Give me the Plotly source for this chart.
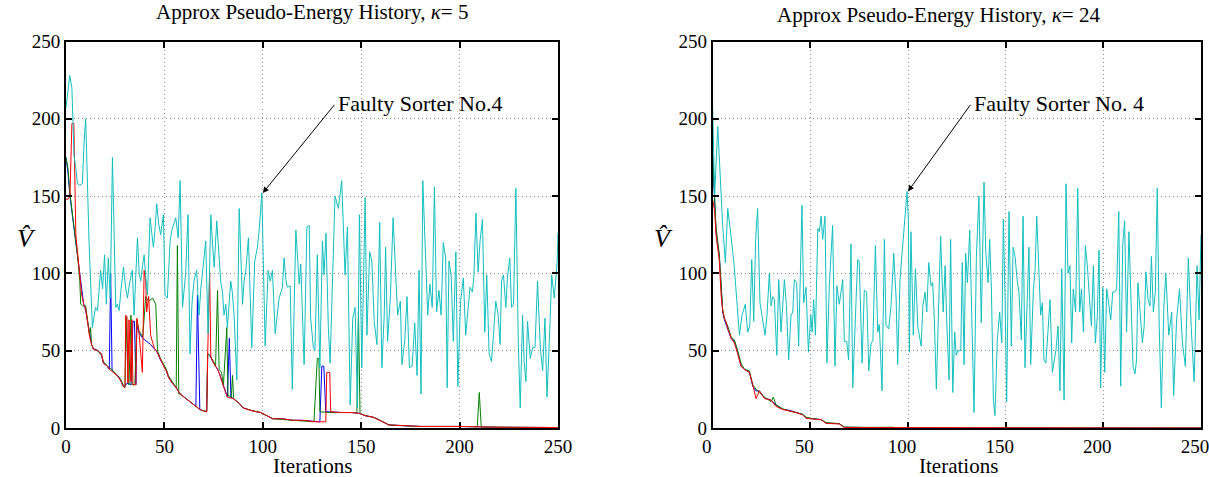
import plotly.graph_objects as go

# ---- data (iteration, pseudo-energy estimate) ----
ticks = [0, 50, 100, 150, 200, 250]

# kappa = 5, faulty sorter No.4 (cyan)
cyan_k5_x = [0, 1.9, 3, 4.1, 5, 5.8, 7, 8.3, 9.2, 10, 11.7, 13.4, 15, 16, 17.6, 18.6, 19.6, 20.5, 21.5, 22.5,
             23.6, 25.3, 26, 27, 28, 29.2, 30.2, 31.2, 32.5, 33.7, 34.6, 35.5, 36.3, 37.2, 38, 38.9, 39.7, 40.5,
             41.4, 42.7, 43.5, 44.4, 45.2, 46.1, 47.1, 48.1, 49.5, 50.3, 51.5, 52.2, 52.9, 53.8, 55, 55.8, 57,
             58, 59.2, 60, 60.8, 62, 63, 64, 65, 66.4, 67.6, 68.5, 69.3, 71, 72.2, 73.6, 74.5, 75.3, 76.6, 77.6,
             78.6, 79.5, 80.3, 81.2, 82, 83.7, 84.5, 85.4, 86.8, 88, 89, 89.7, 90.5, 91.4, 92.7, 94.4, 95.9, 96.6,
             97.3, 98.3, 99.5, 101.2, 102, 102.7, 103.8, 104.9, 106.3, 107.3, 108.3, 110, 110.8, 111.7, 112.5,
             113.9, 115, 116.8, 117.7, 118.5, 119.3, 121, 122.4, 123.6, 124.3, 125.7, 126.5, 127.7, 129, 130.3,
             131.1, 132.1, 133.3, 134.2, 135.5, 136.7, 138.4, 140.1, 141.8, 143, 144.4, 145.7, 146.9, 148.1,
             149.1, 150.3, 152, 152.9, 154.3, 155.4, 156.6, 158, 159.4, 160.5, 161.7, 162.4, 163.4, 164.8, 166.2,
             167.3, 168.5, 169.9, 170.7, 172.1, 173.3, 174.5, 175.9, 177.2, 178.4, 179.4, 180.4, 181.3, 182.7,
             183.8, 184.9, 186.1, 187.2, 188.3, 189.5, 190.6, 191.7, 192.9, 193.7, 194.6, 195.7, 196.8, 198.1,
             199.1, 200.5, 201.9, 203.1, 204.3, 205.3, 206.5, 207.3, 208.3, 209.4, 210.4, 211.6, 212.8, 213.8,
             215, 216.2, 217.2, 218.4, 219.6, 220.6, 221.3, 222.3, 223.5, 224.3, 225.5, 226.4, 227.4, 228.6,
             229.8, 230.8, 232, 232.8, 233.7, 234.5, 235.9, 237.1, 238.3, 239.6, 241, 242.2, 243.4, 244.4,
             245.6, 246.8, 248.1, 249.5, 250]
cyan_k5_y = [207, 228, 220, 176, 168, 158, 157, 158, 185, 200, 121, 65, 78, 76, 102, 90, 112, 80, 110, 84,
             175, 78, 80, 76, 90, 104, 92, 84, 95, 102, 73, 95, 123, 100, 95, 105, 112, 98,
             86, 136, 125, 117, 128, 145, 132, 125, 138, 86, 84, 100, 121, 128, 132, 136, 123,
             160, 78, 88, 100, 138, 48, 80, 95, 102, 73, 90, 100, 121, 61, 138, 118, 104, 134, 110,
             95, 88, 73, 80, 65, 95, 88, 73, 31, 142, 100, 80, 95, 102, 123, 52, 108, 112,
             117, 130, 152, 53, 80, 102, 95, 102, 61, 72, 84, 91, 110, 96, 91,
             92, 25, 128, 105, 93, 106, 41, 130, 131, 71, 52, 50, 112, 39, 121,
             99, 126, 65, 42, 99, 150, 142, 160, 99, 130, 15, 71, 78, 13,
             138, 39, 149, 60, 114, 108, 69, 54, 133, 39, 73, 117, 56, 84, 136,
             103, 73, 82, 41, 56, 85, 39, 40, 68, 34, 102, 22, 160, 103,
             73, 93, 78, 156, 75, 89, 73, 120, 110, 26, 108, 99, 56, 114,
             27, 82, 97, 60, 78, 91, 88, 99, 139, 101, 121, 135, 62, 99,
             48, 43, 60, 82, 73, 54, 95, 99, 78, 97, 110, 78, 80, 155,
             56, 13, 73, 43, 30, 69, 45, 52, 52, 95, 52, 37, 71, 20,
             56, 99, 84, 106, 126]

blue_k5_x = [0, 1, 2, 3, 4, 5, 6, 7, 8, 9, 10, 11, 12, 13, 14, 15, 16, 18, 19, 20, 21, 22, 22.7, 23.4, 24, 26,
             27, 28, 29, 30, 31, 33, 34, 34.8, 35.5, 36, 37, 39, 41, 43, 45, 46, 48, 50, 51, 52, 54, 56, 58,
             60, 62, 64, 66, 66.8, 67.5, 68, 70, 71.5, 72, 73, 75, 77, 78, 80, 82, 83, 83.8, 85, 88, 90, 92,
             95, 99, 102, 105, 110, 115, 120, 127, 129, 130, 131, 132, 134, 140, 145, 149, 152, 156, 158, 161,
             164, 170, 180, 200, 220, 250]
blue_k5_y = [175, 165, 150, 140, 128, 118, 110, 100, 88, 80, 76, 68, 59, 54, 51, 51, 50, 48, 42, 41, 40, 38, 100,
             38, 36, 34, 33, 30, 27, 27, 29, 28, 69, 69, 28, 66, 62, 58, 56, 54, 51, 50, 44, 39, 37, 33, 29,
             26, 22, 20, 18, 16, 14, 86, 48, 12, 11, 10.5, 48, 47, 42, 38, 35, 27, 20, 58, 20, 19, 16, 13, 12,
             11, 10, 8, 6, 6, 5, 5, 4, 4, 40, 40, 10.5, 10.5, 10, 10, 9.5, 8, 7, 6, 4, 2, 1.5, 1, 1, 0.5, 0.3]

green_k5_x = [0, 1, 2, 3, 4, 5, 6, 7, 7.5, 8.5, 10, 11, 12, 12.5, 13, 14, 16, 18, 19, 21, 22, 24, 26, 28, 29,
              30, 30.5, 31.5, 32, 33, 33.5, 35, 36, 37, 39, 40.5, 42, 44, 45.6, 46.5, 48, 50, 51, 52, 54, 56,
              56.6, 57.3, 58, 60, 62, 64, 66, 68, 70, 71.5, 72, 73, 75, 76, 77, 77.8, 79, 80, 81.7, 82.3, 84,
              84.6, 85.2, 88, 90, 92, 95, 99, 102, 105, 110, 115, 120, 126, 127.7, 128.5, 129, 134, 140, 145,
              147.8, 148.6, 149.4, 152, 156, 158, 161, 164, 170, 180, 200, 209, 210, 211, 220, 250]
green_k5_y = [175, 168, 152, 140, 130, 120, 110, 95, 80, 79, 79, 68, 60, 65, 54, 51, 50, 47, 43, 40, 39, 37, 34,
              31, 28, 27, 72, 30, 28, 73, 28, 28, 70, 63, 59, 85, 82, 84, 80, 50, 45, 40, 38, 34, 30, 26, 118,
              22, 22, 20, 18, 16, 14, 12, 11, 11, 48, 47, 43, 40, 89, 38, 36, 28, 65, 21, 20, 34, 19, 16, 13,
              12, 11, 10, 8, 6, 5.5, 5, 4.5, 4, 45, 45, 10.5, 10, 10, 10, 10, 75, 9.5, 8, 7, 6, 4, 2, 1.5, 1,
              1, 0.8, 23, 0.6, 0.5, 0.3]

red_k5_x = [0, 1, 2, 3, 4, 4.5, 5, 6, 7, 8, 9, 10, 11, 12, 13, 14, 16, 18, 19, 21, 22, 24, 26, 28, 29, 30,
            30.3, 31, 31.5, 32, 33, 33.5, 34, 35.5, 36, 37, 38.8, 39.7, 40.5, 41, 42, 43, 45, 46, 48, 50, 51,
            52, 54, 56, 58, 60, 62, 64, 66, 68, 70, 71.5, 72, 73, 73.6, 75, 77, 78, 80, 82, 85, 88, 90, 92,
            95, 99, 102, 105, 110, 115, 120, 127, 132, 132.5, 134, 134.5, 140, 145, 149, 152, 156, 158, 161,
            164, 170, 180, 200, 220, 250]
red_k5_y = [148, 148, 150, 197, 197, 140, 125, 112, 100, 86, 80, 77, 68, 59, 54, 51, 50, 48, 42, 40, 38, 36, 34,
            30, 27, 26, 73, 72, 29, 70, 30, 70, 28, 28, 71, 63, 36, 102, 95, 75, 85, 60, 51, 50, 44, 39, 37,
            33, 29, 26, 22, 20, 18, 16, 14, 12, 11, 10.5, 48, 100, 46, 42, 38, 35, 27, 20, 19, 16, 13, 12,
            11, 10, 8, 6, 6, 5, 5, 4, 4, 36, 36, 10.5, 10, 10, 9.5, 8, 7, 6, 4, 2, 1.5, 1, 1, 0.5, 0.3]

# kappa = 24
cyan_k24_x = [0, 1, 2.6, 3.8, 5.1, 6.5, 7.7, 9.4, 11, 12.3, 13.7, 15, 16.7, 17.9, 19, 20, 21, 22, 23, 24.2, 25.6,
              26.8, 27.8, 29, 29.9, 30.7, 31.6, 32.8, 33.8, 35, 36.7, 37.7, 38.9, 40.1, 41, 41.8, 43, 44, 45.7,
              46.6, 47.8, 49, 50.2, 50.9, 51.7, 52.6, 53.8, 54.6, 55.5, 56.3, 57.5, 58.5, 59.7, 61.4, 62.6, 63.6,
              64.8, 65.7, 66.6, 67.4, 68.6, 69.6, 70.8, 71.7, 73, 74.2, 75, 76.5, 77.6, 78.8, 79.9, 81.1, 82,
              83.3, 84.5, 85.3, 86.7, 87.9, 88.7, 90.1, 91.3, 92.7, 93.9, 94.7, 95.9, 97.3, 98.1, 99.5, 100.2,
              100.7, 101.5, 102.7, 103.8, 105, 106.7, 107.6, 108.7, 109.6, 110.6, 111.8, 112.6, 113.5, 114.5,
              115.9, 116.7, 118, 119, 119.8, 121, 121.8, 122.9, 123.9, 124.7, 125.6, 127, 127.8, 128.7, 129.5,
              130.4, 131.6, 132.6, 133.8, 135, 136.3, 137.5, 138.9, 139.8, 141, 141.8, 142.7, 143.7, 144.5,
              145.7, 146.9, 148, 148.8, 149.7, 150.5, 151.7, 152.9, 153.8, 154.8, 156, 156.8, 158, 158.9, 159.9,
              161.1, 161.9, 162.8, 164.2, 165, 165.9, 166.9, 167.9, 168.8, 169.6, 170.6, 171.7, 172.7, 173.9,
              174.8, 175.8, 176.8, 177.8, 178.7, 179.9, 180.9, 181.9, 182.9, 183.8, 184.6, 185.8, 186.9, 187.9,
              188.8, 189.8, 190.8, 191.8, 192.8, 193.9, 194.9, 195.9, 196.9, 197.8, 198.6, 199.7, 200.7, 201.7,
              202.7, 203.8, 204.8, 205.8, 206.8, 207.9, 208.9, 209.9, 210.9, 211.9, 213.1, 214.3, 215.2, 216.2,
              217, 217.7, 218.8, 220, 220.9, 221.8, 222.9, 223.9, 224.6, 225.6, 226.6, 227.6, 228.6, 229.7, 231,
              232, 233.5, 235, 236, 237.5, 239, 240.5, 242, 243.5, 245, 246.5, 248, 249, 250]
cyan_k24_y = [207, 150, 195, 161, 131, 107, 142, 124, 105, 83, 60, 73, 80, 62, 66, 109, 69, 122, 142, 81, 70,
              60, 73, 100, 79, 85, 83, 47, 96, 62, 96, 80, 44, 73, 75, 96, 94, 53, 144,
              81, 91, 49, 73, 62, 83, 60, 129, 127, 137, 122, 137, 42, 92, 131, 40, 92,
              80, 88, 96, 56, 56, 44, 119, 26, 75, 109, 108, 42, 89, 88, 37, 55, 56,
              118, 62, 67, 24, 122, 67, 64, 79, 113, 84, 41, 96, 118, 127, 153, 134,
              49, 127, 60, 103, 66, 53, 79, 88, 75, 107, 92, 94, 70, 25,
              101, 124, 75, 105, 70, 31, 122, 23, 62, 47, 50, 50, 107, 41, 113,
              94, 128, 79, 10, 111, 150, 68, 159, 114, 94, 122, 90, 18, 8,
              57, 75, 55, 135, 83, 17, 140, 53, 117, 111, 94, 88, 57, 137, 39,
              96, 117, 41, 90, 101, 137, 105, 73, 81, 44, 42, 62, 83, 36,
              44, 51, 66, 24, 103, 18, 158, 100, 105, 55, 90, 75, 155, 75,
              90, 62, 118, 105, 86, 66, 105, 55, 72, 115, 26, 91, 36, 90,
              81, 70, 88, 88, 90, 140, 27, 118, 134, 62, 127, 70, 40, 35,
              44, 94, 75, 55, 66, 101, 83, 79, 111, 75, 88, 155, 66, 13, 79,
              100, 60, 75, 21, 70, 90, 55, 40, 110, 65, 30, 105, 70, 125]

blue_k24_x = [0, 1, 1.7, 3.4, 4.3, 5.1, 6, 7.7, 9.4, 11.1, 12.8, 14.5, 16.2, 18.8, 20.5, 22.2, 23.9, 26.5, 29.9,
              32.4, 35.8, 39.2, 42.7, 46, 47.8, 51.2, 55.5, 58, 64.8, 67.4, 80, 90, 95, 250]
blue_k24_y = [176, 145, 127, 111, 88, 75, 70, 64, 58, 56, 49, 40, 38, 36, 27, 24, 24, 19.5, 18,
              15, 12, 11.5, 10, 8.7, 6.5, 5.8, 5.4, 3.2, 2.8, 0.5, 0.4, 0.3, 0, 0]

green_k24_x = [0, 1, 1.7, 3.4, 4.3, 5.1, 6, 7.7, 9.4, 11.1, 12.8, 14.5, 16.2, 18.8, 20.5, 22.2, 23.9, 26.5, 29.9,
               31, 32.4, 35.8, 39.2, 42.7, 46, 47.8, 51.2, 55.5, 58, 64.8, 67.4, 80, 92, 95, 250]
green_k24_y = [176, 150, 130, 112, 90, 77, 71, 66, 59, 57, 50, 42, 38, 37, 28, 25, 23, 20, 17,
               20, 15, 12.5, 11, 10, 9, 7, 6, 5.5, 3.5, 2.8, 0.6, 0.4, 0.5, 0, 0]

red_k24_x = [0, 1, 1.7, 3.4, 4.3, 5.1, 6, 7, 7.7, 8.5, 9.4, 11.1, 12.8, 14.5, 16.2, 18.8, 20.5, 21.5, 22.2, 23.9,
             26.5, 29.9, 32.4, 35.8, 39.2, 42.7, 46, 47.8, 51.2, 55.5, 58, 64.8, 67.4, 80, 90, 95, 250]
red_k24_y = [148, 140, 125, 108, 86, 76, 71, 68, 64, 62, 58, 55, 48, 40, 38, 36, 28, 22, 19, 24,
             19, 18, 14, 12, 11, 10, 8.5, 6.3, 5.8, 5.4, 3, 2.6, 0.3, 0.3, 0.4, 0, 0]

SERIF = "Liberation Serif, Times New Roman, serif"
BLUE, GREEN, RED, CYAN = "#0000ff", "#008000", "#ff0000", "#11bfbf"

fig = go.Figure()


def add_lines(xs, ys, color, xa, ya):
    fig.add_trace(go.Scatter(x=xs, y=ys, mode="lines", line=dict(color=color, width=1),
                             xaxis=xa, yaxis=ya, showlegend=False, hoverinfo="skip"))


add_lines(blue_k5_x, blue_k5_y, BLUE, "x", "y")
add_lines(green_k5_x, green_k5_y, GREEN, "x", "y")
add_lines(red_k5_x, red_k5_y, RED, "x", "y")
add_lines(cyan_k5_x, cyan_k5_y, CYAN, "x", "y")
add_lines(blue_k24_x, blue_k24_y, BLUE, "x2", "y2")
add_lines(green_k24_x, green_k24_y, GREEN, "x2", "y2")
add_lines(red_k24_x, red_k24_y, RED, "x2", "y2")
add_lines(cyan_k24_x, cyan_k24_y, CYAN, "x2", "y2")

W, H = 1209, 477

axis_style = dict(range=[0, 250], tickvals=ticks, ticktext=[str(t) for t in ticks],
                  showline=True, linecolor="black", linewidth=2, mirror="ticks",
                  ticks="inside", ticklen=6, tickwidth=1.5, tickcolor="black",
                  showgrid=True, gridcolor="#8a8a8a", griddash="1px,3px", gridwidth=1,
                  zeroline=False, automargin=False, ticklabeloverflow="allow",
                  tickfont=dict(family=SERIF, size=19, color="black"))

ydom = [1 - 428 / H, 1 - 41.5 / H]
fig.update_layout(
    width=W, height=H,
    margin=dict(l=0, r=0, t=0, b=0, autoexpand=False),
    paper_bgcolor="white", plot_bgcolor="white",
    xaxis=dict(domain=[66 / W, 558 / W], anchor="y", layer="below traces", **axis_style),
    yaxis=dict(domain=ydom, anchor="x", **axis_style),
    xaxis2=dict(domain=[712.7 / W, 1201 / W], anchor="y2", layer="below traces",
                ticklabelshift=-6, **axis_style),
    yaxis2=dict(domain=ydom, anchor="x2", **axis_style),
)

txt = dict(family=SERIF, size=21, color="black")
ann = [
    dict(text="Approx Pseudo-Energy History, <i>κ</i>= 5", x=312 / W, y=1 - 12 / H),
    dict(text="Approx Pseudo-Energy History, <i>κ</i>= 24", x=938 / W, y=1 - 15 / H),
    dict(text="Iterations", x=312 / W, y=1 - 466 / H),
    dict(text="Iterations", x=958 / W, y=1 - 466 / H),
]
for a in ann:
    fig.add_annotation(xref="paper", yref="paper", showarrow=False, font=txt,
                       xanchor="center", yanchor="middle", **a)

for xpos in (15, 663):
    fig.add_annotation(text="<i>V\u0302</i>", xref="paper", yref="paper", x=xpos / W, y=1 - 238 / H,
                       showarrow=False, font=dict(family=SERIF, size=26, color="black"))

# arrows pointing at the faulty sorter
for xa, ya, tip, tail, label in (("x", "y", (100, 152), (137, 210), "Faulty Sorter No.4"),
                                 ("x2", "y2", (100, 153), (132.5, 210), "Faulty Sorter No. 4")):
    fig.add_annotation(x=tip[0], y=tip[1], xref=xa, yref=ya, ax=tail[0], ay=tail[1], axref=xa, ayref=ya,
                       text="", showarrow=True, arrowhead=2, arrowsize=1.2, arrowwidth=1, arrowcolor="black",
                       standoff=0, startstandoff=0)
    fig.add_annotation(x=tail[0], y=tail[1], xref=xa, yref=ya, text=label, showarrow=False,
                       xanchor="left", yanchor="middle", font=dict(family=SERIF, size=22, color="black"))

# page margin off so the 1209x477 figure fills the window exactly
fig.write_html("out.html", config={"displayModeBar": False},
               post_script="document.body.style.margin='0';")
